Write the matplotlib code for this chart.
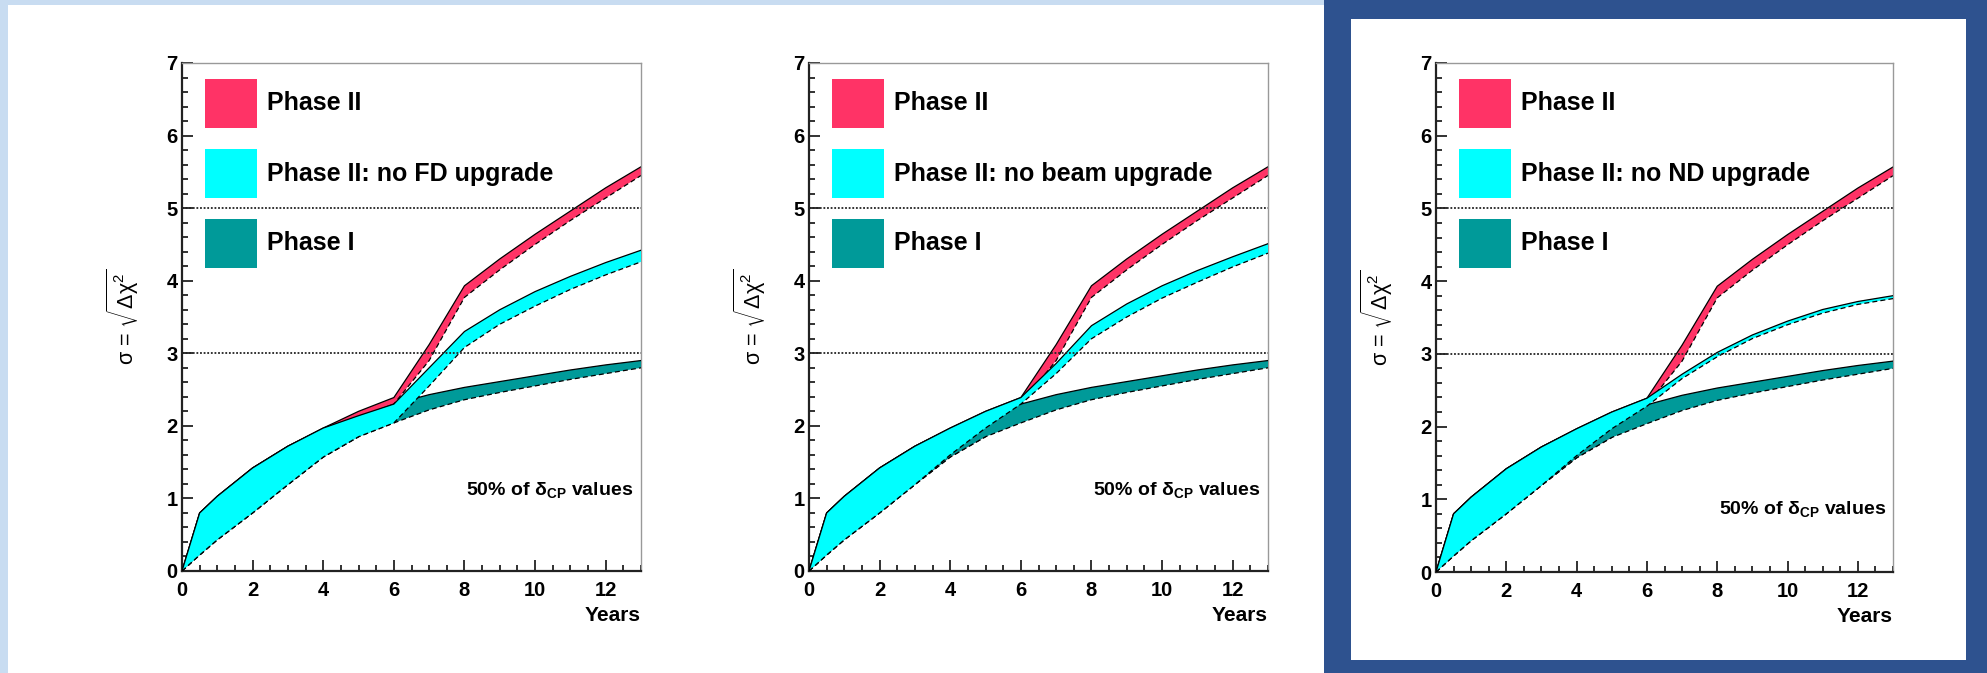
import numpy as np
import matplotlib
matplotlib.use("Agg")
import matplotlib.pyplot as plt
from matplotlib.patches import Rectangle
from matplotlib.ticker import MultipleLocator

plt.rcParams['font.family'] = ['Liberation Sans', 'DejaVu Sans']
plt.rcParams['mathtext.fontset'] = 'custom'
plt.rcParams['mathtext.rm'] = 'Liberation Sans'
plt.rcParams['mathtext.it'] = 'Liberation Sans:italic'
plt.rcParams['mathtext.bf'] = 'Liberation Sans:bold'
plt.rcParams['mathtext.default'] = 'regular'

# ---------------- data ----------------
years = [0, 0.5, 1, 2, 3, 4, 5, 6, 7, 8, 9, 10, 11, 12, 13]

phase2_hi = [0, 0.80, 1.03, 1.42, 1.72, 1.97, 2.20, 2.39, 3.12, 3.93, 4.30, 4.64, 4.96, 5.28, 5.57]
phase2_lo = [0, 0.22, 0.43, 0.80, 1.19, 1.57, 1.85, 2.30, 2.90, 3.77, 4.15, 4.50, 4.83, 5.14, 5.45]

phase1_hi = [0, 0.80, 1.03, 1.42, 1.72, 1.96, 2.12, 2.30, 2.43, 2.53, 2.61, 2.69, 2.77, 2.84, 2.90]
phase1_lo = [0, 0.22, 0.43, 0.80, 1.19, 1.57, 1.85, 2.04, 2.22, 2.36, 2.46, 2.55, 2.64, 2.72, 2.80]

nofd_hi = [0, 0.80, 1.03, 1.42, 1.72, 1.97, 2.14, 2.30, 2.80, 3.30, 3.60, 3.85, 4.06, 4.25, 4.42]
nofd_lo = [0, 0.22, 0.43, 0.80, 1.19, 1.57, 1.85, 2.04, 2.55, 3.08, 3.40, 3.65, 3.88, 4.08, 4.26]

nobeam_hi = [0, 0.80, 1.03, 1.42, 1.72, 1.97, 2.20, 2.39, 2.86, 3.38, 3.68, 3.93, 4.14, 4.33, 4.51]
nobeam_lo = [0, 0.22, 0.43, 0.80, 1.19, 1.60, 1.97, 2.30, 2.72, 3.20, 3.50, 3.76, 3.98, 4.19, 4.38]

nond_hi = [0, 0.80, 1.03, 1.42, 1.72, 1.97, 2.20, 2.39, 2.72, 3.02, 3.26, 3.45, 3.61, 3.72, 3.80]
nond_lo = [0, 0.22, 0.43, 0.80, 1.19, 1.60, 1.97, 2.28, 2.66, 2.96, 3.21, 3.40, 3.56, 3.68, 3.76]

legend_labels = ["Phase II", "Phase II: no FD upgrade", "Phase I"]
panel_cyan_labels = ["Phase II: no FD upgrade", "Phase II: no beam upgrade", "Phase II: no ND upgrade"]
panel_cyan_hi = [nofd_hi, nobeam_hi, nond_hi]
panel_cyan_lo = [nofd_lo, nobeam_lo, nond_lo]
annot_y = [1.12, 1.12, 0.87]          # data-y of the "50% of dCP" text centre
sigma_lines = [3, 5]
x_ticks = [0, 2, 4, 6, 8, 10, 12]
y_ticks = [0, 1, 2, 3, 4, 5, 6, 7]

RED = '#FF3366'
CYAN = '#00FFFF'
TEAL = '#009A99'

# ---------------- figure / background ----------------
W, H = 1987, 673
fig = plt.figure(figsize=(W / 100, H / 100), dpi=100)
fig.patch.set_facecolor('#C8DCF1')


def box(x0, y0, x1, y1):
    return (x0 / W, 1 - y1 / H), (x1 - x0) / W, (y1 - y0) / H


def add_rect(x0, y0, x1, y1, color):
    xy, w, h = box(x0, y0, x1, y1)
    fig.add_artist(Rectangle(xy, w, h, transform=fig.transFigure,
                             facecolor=color, edgecolor='none', zorder=-10))


add_rect(8, 5, 1324, 673, 'white')
add_rect(1324, 0, 1987, 673, '#2E528F')
add_rect(1351, 19, 1966, 660, 'white')

axes_px = [(182, 63, 641, 571), (809, 63, 1268, 571), (1436, 63, 1893, 572)]


def band(ax, lo, hi, color, z):
    ax.fill_between(years, lo, hi, facecolor=color, edgecolor='none', zorder=z)
    ax.plot(years, hi, color='black', lw=0.9, zorder=z + 0.1)
    ax.plot(years, lo, color='black', lw=0.9, ls=(0, (4, 2.5)), zorder=z + 0.1)


for i, (x0, y0, x1, y1) in enumerate(axes_px):
    xy, w, h = box(x0, y0, x1, y1)
    ax = fig.add_axes([xy[0], xy[1], w, h])
    ax.set_facecolor('none')
    ax.set_xlim(0, 13)
    ax.set_ylim(0, 7)

    band(ax, phase2_lo, phase2_hi, RED, 2)
    band(ax, phase1_lo, phase1_hi, TEAL, 3)
    band(ax, panel_cyan_lo[i], panel_cyan_hi[i], CYAN, 4)

    for s in sigma_lines:
        ax.axhline(s, color='#222222', lw=1.3, ls=(0, (1, 1)), zorder=5)

    ax.set_xticks(x_ticks)
    ax.set_yticks(y_ticks)
    ax.xaxis.set_minor_locator(MultipleLocator(0.5))
    ax.yaxis.set_minor_locator(MultipleLocator(0.2))
    ax.tick_params(which='both', direction='in', top=False, right=False,
                   width=1.3, color='#222222')
    ax.tick_params(which='major', length=8)
    ax.tick_params(which='minor', length=4.3)
    ax.tick_params(axis='x', pad=7)
    ax.tick_params(axis='y', pad=3)
    for lab in ax.get_xticklabels() + ax.get_yticklabels():
        lab.set_fontsize(14.5)
        lab.set_fontweight('bold')
    for sp in ['top', 'right']:
        ax.spines[sp].set_color('#999999')
        ax.spines[sp].set_linewidth(1.0)
    for sp in ['left', 'bottom']:
        ax.spines[sp].set_color('#222222')
        ax.spines[sp].set_linewidth(1.6)

    aw = x1 - x0
    ah = y1 - y0
    # y label
    ax.text(-59 / aw, 0.5, r'$\sigma$ = $\sqrt{\Delta\chi^{2}}$', transform=ax.transAxes,
            rotation=90, ha='center', va='center', fontsize=15.5)
    # x label
    ax.text(1.0, -50 / ah, 'Years', transform=ax.transAxes, ha='right', va='baseline',
            fontsize=15, fontweight='bold')
    # annotation
    ax.text(0.619, annot_y[i], r'50% of $\delta_{\mathbf{CP}}$ values',
            transform=ax.get_yaxis_transform(), ha='left', va='center',
            fontsize=14, fontweight='bold')

    # legend boxes
    labels = [legend_labels[0], panel_cyan_labels[i], legend_labels[2]]
    colors = [RED, CYAN, TEAL]
    for k, (lab, col) in enumerate(zip(labels, colors)):
        top = 16 + 70 * k
        ax.add_patch(Rectangle((23 / aw, 1 - (top + 49) / ah), 52 / aw, 49 / ah,
                               transform=ax.transAxes, facecolor=col, edgecolor='none',
                               zorder=6, clip_on=False))
        ax.text(85 / aw, 1 - (top + 24.5) / ah, lab, transform=ax.transAxes,
                ha='left', va='center', fontsize=18, fontweight='bold', zorder=6)

fig.savefig('out.png', dpi=100, facecolor=fig.get_facecolor())
